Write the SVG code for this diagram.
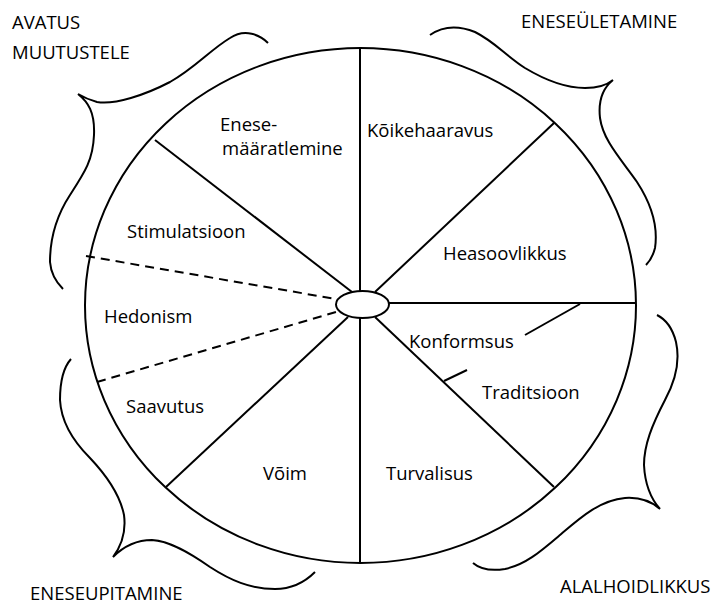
<svg xmlns="http://www.w3.org/2000/svg" width="711" height="604" viewBox="0 0 711 604">
<style>
.s{fill:none;stroke:#000;stroke-width:2;stroke-linecap:butt}
.d{fill:none;stroke:#000;stroke-width:2;stroke-dasharray:9 6}
.t{font-family:"Open Sans","Noto Sans",sans-serif;font-size:18.5px;fill:#000}
</style>
<rect width="711" height="604" fill="#fff"/>
<g id="outer-circle"><ellipse class="s" cx="360.5" cy="305.5" rx="275.5" ry="257.5"/></g>
<g id="connectors">
<line class="s" x1="360" y1="48" x2="360" y2="291"/>
<line class="s" x1="360" y1="318" x2="360" y2="563"/>
<line class="s" x1="155" y1="140" x2="352" y2="292"/>
<line class="s" x1="375" y1="292" x2="554" y2="123"/>
<line class="s" x1="389" y1="303" x2="636" y2="303"/>
<line class="s" x1="375" y1="317" x2="554" y2="487"/>
<line class="s" x1="348" y1="317" x2="166" y2="487"/>
<line class="d" x1="86" y1="256" x2="336" y2="299"/>
<line class="d" x1="97" y1="382" x2="336" y2="312"/>
<line class="s" x1="580" y1="304" x2="525" y2="335"/>
<line class="s" x1="444" y1="381" x2="467" y2="370"/>
</g>
<g id="center"><ellipse class="s" cx="362.5" cy="304.5" rx="26.5" ry="13.5" fill="#fff"/></g>
<g id="bracket-top-left"><path class="s" d="M268,43 C260,35 245,28 230,38 C210,50 195,68 170,82 C145,95 115,105 97,102 C90,100 83,97 78,94 C88,102 95,112 94,135 C93,160 85,172 70,195 C55,218 50,240 50,262 C51,275 57,283 63,289"/></g>
<g id="bracket-top-right"><path class="s" d="M430,35 C440,28 455,24 475,32 C495,42 505,55 525,68 C545,80 565,88 585,88 C598,88 607,85 613,80 C603,88 598,100 600,118 C603,140 620,158 637,182 C652,205 658,228 655,248 C653,256 650,261 646,265"/></g>
<g id="bracket-bottom-left"><path class="s" d="M71,359 C63,368 60,385 60,400 C61,420 72,440 90,458 C108,477 120,495 124,515 C126,530 122,545 113,557 C122,548 135,540 152,540 C170,541 190,553 210,567 C230,580 250,589 275,589 C292,589 305,582 315,572"/></g>
<g id="bracket-bottom-right"><path class="s" d="M473,563 C480,569 492,571 505,569 C525,565 540,552 560,535 C580,518 600,500 625,498 C640,497 652,502 660,509 C652,500 645,485 644,465 C644,445 652,425 665,400 C677,378 680,360 676,342 C673,330 667,320 657,315"/></g>
<g id="labels">
<text class="t" x="12" y="29">AVATUS</text>
<text class="t" x="12" y="59">MUUTUSTELE</text>
<text class="t" x="521" y="28">ENESEÜLETAMINE</text>
<text class="t" x="220" y="131">Enese-</text>
<text class="t" x="222" y="155">määratlemine</text>
<text class="t" x="367" y="137">Kõikehaaravus</text>
<text class="t" x="127" y="238">Stimulatsioon</text>
<text class="t" x="443" y="260">Heasoovlikkus</text>
<text class="t" x="104" y="323">Hedonism</text>
<text class="t" x="126" y="413">Saavutus</text>
<text class="t" x="263" y="480">Võim</text>
<text class="t" x="409" y="348">Konformsus</text>
<text class="t" x="482" y="399">Traditsioon</text>
<text class="t" x="386" y="480">Turvalisus</text>
<text class="t" x="30" y="600">ENESEUPITAMINE</text>
<text class="t" x="560" y="593">ALALHOIDLIKKUS</text>
</g>
</svg>
